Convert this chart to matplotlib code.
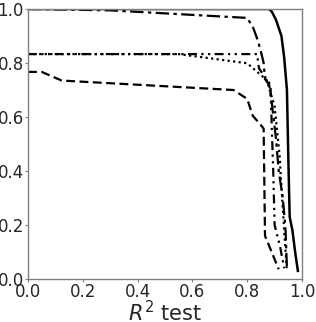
import matplotlib
matplotlib.use("Agg")
import matplotlib.pyplot as plt

# Series (x = R^2 test, y = fraction)
solid_x = [0.0, 0.88, 0.89, 0.905, 0.925, 0.935, 0.945, 0.95, 0.955, 0.965, 0.975, 0.985]
solid_y = [1.0, 1.0, 0.99, 0.96, 0.90, 0.82, 0.70, 0.45, 0.23, 0.18, 0.10, 0.03]

dashdot_x = [0.0, 0.30, 0.80, 0.822, 0.84, 0.853, 0.86, 0.865, 0.88, 0.89, 0.905, 0.915, 0.93, 0.94, 0.945]
dashdot_y = [1.0, 0.995, 0.967, 0.93, 0.88, 0.83, 0.80, 0.74, 0.72, 0.65, 0.52, 0.40, 0.30, 0.18, 0.04]

dashdotdot_x = [0.0, 0.836, 0.843, 0.885, 0.89, 0.895, 0.90, 0.92, 0.935]
dashdotdot_y = [0.833, 0.833, 0.78, 0.72, 0.55, 0.40, 0.20, 0.12, 0.04]

dotted_x = [0.0, 0.55, 0.80, 0.871, 0.90, 0.918, 0.93, 0.944]
dotted_y = [0.833, 0.833, 0.799, 0.737, 0.64, 0.46, 0.26, 0.04]

dashed_x = [0.0, 0.05, 0.123, 0.75, 0.80, 0.82, 0.85, 0.86, 0.865, 0.915]
dashed_y = [0.767, 0.767, 0.735, 0.70, 0.667, 0.605, 0.57, 0.557, 0.16, 0.036]

fig = plt.figure(figsize=(3.16, 3.22), dpi=100)
ax = fig.add_axes([28/316, 1-279/322, 274/316, 270/322])

lw = 1.6
ax.plot(solid_x, solid_y, color="black", lw=1.8, linestyle="-")
ax.plot(dashdot_x, dashdot_y, color="black", lw=lw, linestyle=(0, (6, 2, 1.5, 2)))
ax.plot(dashdotdot_x, dashdotdot_y, color="black", lw=lw, linestyle=(0, (4, 2, 1, 2, 1, 2)))
ax.plot(dotted_x, dotted_y, color="black", lw=lw, linestyle=(0, (1, 1.5)))
ax.plot(dashed_x, dashed_y, color="black", lw=lw, linestyle=(0, (4, 2)))

ax.set_xlim(0, 1)
ax.set_ylim(0, 1)
ticks = [0.0, 0.2, 0.4, 0.6, 0.8, 1.0]
ax.set_xticks(ticks)
ax.set_yticks(ticks)
ax.set_xticklabels([f"{t:.1f}" for t in ticks])
ax.set_yticklabels([f"{t:.1f}" for t in ticks])
ax.tick_params(labelsize=12, length=2, width=0.8, color="#808080", labelcolor="#262626", pad=1)
for s in ax.spines.values():
    s.set_color("#808080")
    s.set_linewidth(1.0)
ax.set_xlabel(r"$R^2$ test", fontsize=15, color="#262626", labelpad=-1)

fig.savefig("out.png", dpi=100)
